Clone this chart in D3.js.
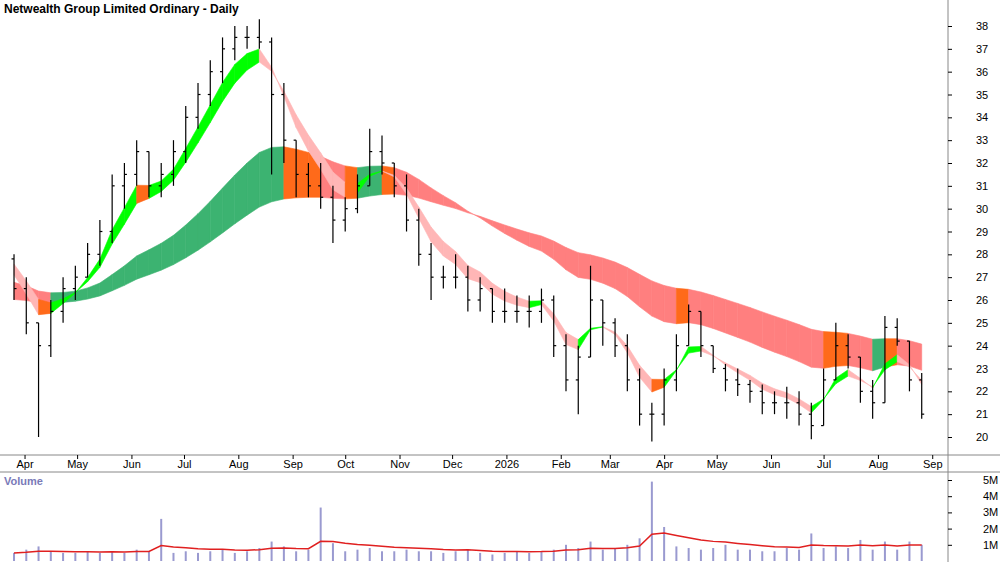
<!DOCTYPE html>
<html><head><meta charset="utf-8">
<script src="https://cdn.jsdelivr.net/npm/d3@7"></script>
<style>body{margin:0;background:#fff}svg{font-family:"Liberation Sans",Arial,sans-serif}</style>
</head><body>
<script>
// weekly bars, week starting Mar 24 2025
const start = new Date(2025, 2, 24)
const highs = [28,27,25,26,27,27.5,28.5,29.5,31.5,32,33,32.5,32,33,34.5,35.5,36.5,37.5,38,38,38.3,37.5,35.5,33,32,32,31,30.5,31.5,33.5,33.2,32,31.5,30,28.5,27.5,28,27.5,27,26.5,26.5,26.2,26.2,26.5,26.2,24.5,24,27.5,26,25.2,24.5,23,21.5,23,24.5,25.8,25.5,24,23.2,23,22.5,22.3,22,22.2,22,21.5,23,25,24.5,23.5,22.5,25.3,25.2,24.2,22.8]
const lows = [26,24.5,20,23.5,25,26,27,27.5,28.5,30,31,30.5,30.5,31,32,33.5,34.5,35.5,36.5,37,37,31.5,32,30.5,30.5,30,28.5,29,29.8,31,31.5,30.5,29,27.5,26,26.5,26.5,25.5,25.5,25,25,25,24.8,25,23.5,22,21,23.5,24,23.5,22,20.5,19.8,20.5,22,24,23.5,22.8,22,21.8,21.5,21,21,20.8,20.5,19.9,20.5,22.5,23,21.5,20.8,21.5,24,22,20.8]
const closes = [26.5,25,24,25.5,26.5,27,28,29,31,31.5,32.5,31,31.5,32.5,34,35,36,37,37.5,37.5,37.3,35,33,31.5,31,30.5,29.5,30,31,32.5,32,31,29.5,28,27,27,27,26,26.5,25.5,25.5,25.5,25.5,26,24,22.5,23.5,26,25,24,22.5,21,21,22.5,24,25.5,24,23,22.5,22.3,22,21.5,21.5,21.5,21,20.5,22.5,24,23.5,22,21.5,24.8,24.2,22.5,21]
const volumes = [0.5,0.7,0.9,0.6,0.5,0.5,0.6,0.5,0.6,0.5,0.7,0.6,2.6,0.5,0.6,0.5,0.6,0.7,0.5,0.6,0.8,1.2,0.9,0.6,0.7,3.3,1.1,0.6,0.7,0.8,0.6,0.6,0.7,0.6,0.6,0.5,0.6,0.7,0.5,0.4,0.5,0.6,0.5,0.6,0.7,1.0,0.8,1.2,0.7,0.8,1.0,1.4,4.9,2.1,0.9,0.8,0.7,0.8,1.0,0.7,0.7,0.6,0.6,0.8,0.7,1.7,0.8,0.9,0.8,1.3,0.7,1.2,0.7,1.2,1.0]
const monthTicks = ['Apr','May','Jun','Jul','Aug','Sep','Oct','Nov','Dec','2026','Feb','Mar','Apr','May','Jun','Jul','Aug','Sep']
const priceTicks = d3.range(20, 39)
const volTicks = [1, 2, 3, 4, 5]

const W = 1000, H = 562, plotR = 948
const svg = d3.select('body').append('svg').attr('width', W).attr('height', H)

const dates = closes.map((c, i) => d3.timeDay.offset(start, i * 7 + 2))
const x = d3.scaleTime().domain([new Date(2025, 2, 18), new Date(2026, 8, 10)]).range([0, plotR])
const y = d3.scaleLinear().domain([20, 38]).range([437, 26])
const yv = d3.scaleLinear().domain([0, 5]).range([561, 480])

function ema(arr, n, seed) {
  const k = 2 / (n + 1); let out = [], e = seed ?? arr[0]
  arr.forEach(v => { e = v * k + e * (1 - k); out.push(e) })
  return out
}
const f1 = ema(closes, 4, 27.5), f2 = ema(closes, 6, 28)
const s1 = ema(closes, 22, 26.8), s2 = ema(closes, 42, 26)

function ribbon(a, b, cols) {
  for (let i = 1; i < a.length; i++) {
    const ua = a[i] - a[i - 1], ub = b[i] - b[i - 1]
    const c = ua > 0 && ub > 0 ? cols[0] : ua < 0 && ub < 0 ? cols[1] : cols[2]
    const pts = [[x(dates[i - 1]), y(a[i - 1])], [x(dates[i]), y(a[i])], [x(dates[i]), y(b[i])], [x(dates[i - 1]), y(b[i - 1])]]
    svg.append('path').attr('d', 'M' + pts.join('L') + 'Z').attr('fill', c).attr('stroke', c).attr('stroke-width', 0.6)
  }
}
ribbon(s1, s2, ['#3cb371', '#ff7f7f', '#ff6a1a'])
ribbon(f1, f2, ['#00ff00', '#ffb6b6', '#ff6a1a'])

// bars
const opens = closes.map((c, i) => i ? closes[i - 1] : 27.8)
const g = svg.append('g').attr('stroke', '#000').attr('stroke-width', 1.2)
dates.forEach((d, i) => {
  const cx = x(d)
  g.append('line').attr('x1', cx).attr('x2', cx).attr('y1', y(highs[i])).attr('y2', y(lows[i]))
  g.append('line').attr('x1', cx - 2.5).attr('x2', cx).attr('y1', y(opens[i])).attr('y2', y(opens[i]))
  g.append('line').attr('x1', cx).attr('x2', cx + 2.5).attr('y1', y(closes[i])).attr('y2', y(closes[i]))
})

// frame
svg.append('line').attr('x1', plotR).attr('x2', plotR).attr('y1', 0).attr('y2', H).attr('stroke', '#888')
svg.append('line').attr('x1', 0).attr('x2', W).attr('y1', 455).attr('y2', 455).attr('stroke', '#888')
svg.append('line').attr('x1', 0).attr('x2', W).attr('y1', 472).attr('y2', 472).attr('stroke', '#888')

svg.append('g').attr('transform', `translate(${plotR},0)`)
  .call(d3.axisRight(y).tickValues(priceTicks).tickSize(4).tickFormat(d3.format('d')))
  .call(a => a.select('.domain').remove())
  .call(a => a.selectAll('text').attr('font-size', 11).attr('x', 28).attr('text-anchor', 'start'))

const months = d3.timeMonth.range(new Date(2025, 3, 1), new Date(2026, 8, 2))
svg.append('g').attr('transform', 'translate(0,455)')
  .call(d3.axisBottom(x).tickValues(months).tickSize(4).tickFormat((d, i) => monthTicks[i]))
  .call(a => a.select('.domain').remove())
  .call(a => a.selectAll('text').attr('font-size', 11).attr('dy', '0.5em'))

svg.append('text').attr('x', 4).attr('y', 13).attr('font-size', 12).attr('font-weight', 'bold').text('Netwealth Group Limited Ordinary - Daily')

// volume
svg.append('text').attr('x', 4).attr('y', 485).attr('font-size', 11).attr('font-weight', 'bold').attr('fill', '#7a7ab8').text('Volume')
svg.append('g').selectAll('rect').data(volumes).join('rect')
  .attr('x', (v, i) => x(dates[i]) - 1).attr('width', 2)
  .attr('y', v => yv(v)).attr('height', v => yv(0) - yv(v)).attr('fill', '#9a9ad0')
const vma = ema(volumes, 10)
svg.append('path').datum(vma).attr('fill', 'none').attr('stroke', '#e02020').attr('stroke-width', 1.5)
  .attr('d', d3.line().x((v, i) => x(dates[i])).y(v => yv(v)))
svg.append('g').attr('transform', `translate(${plotR},0)`)
  .call(d3.axisRight(yv).tickValues(volTicks).tickSize(4).tickFormat(d => d + 'M'))
  .call(a => a.select('.domain').remove())
  .call(a => a.selectAll('text').attr('font-size', 11).attr('x', 35).attr('text-anchor', 'start'))
</script>
</body></html>
